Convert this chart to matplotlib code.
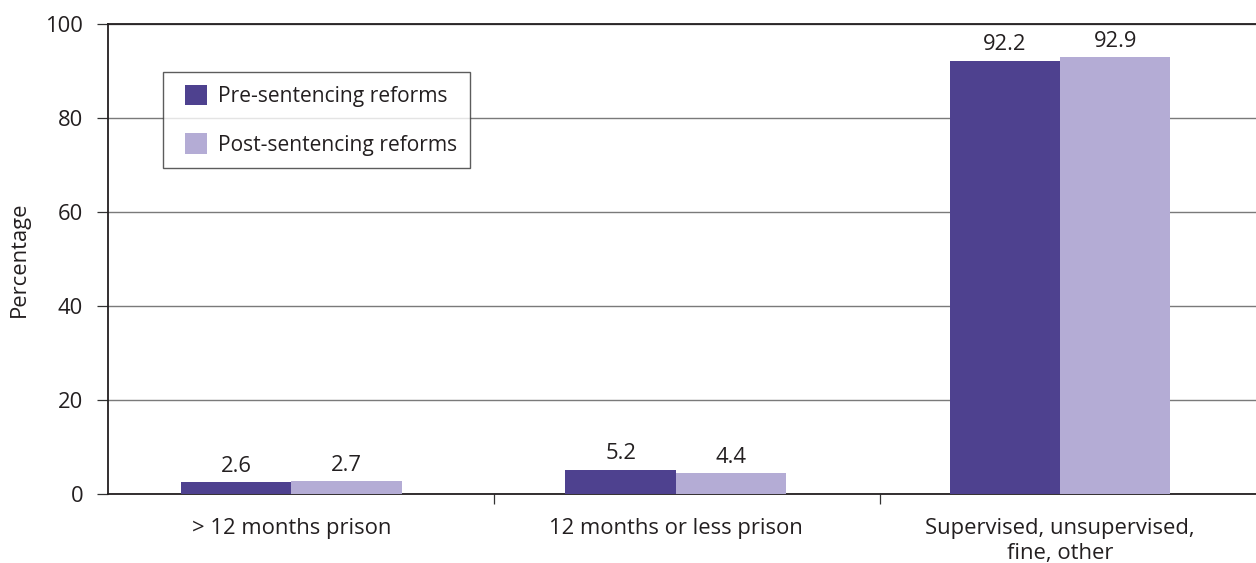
import matplotlib
matplotlib.use("Agg")
import matplotlib.pyplot as plt
from matplotlib.legend_handler import HandlerPatch, update_from_first_child
from matplotlib.container import BarContainer
from matplotlib.patches import Rectangle
import numpy as np

categories = ["> 12 months prison", "12 months or less prison", "Supervised, unsupervised,\nfine, other"]
pre_reform = [2.6, 5.2, 92.2]
post_reform = [2.7, 4.4, 92.9]
series_labels = ["Pre-sentencing reforms", "Post-sentencing reforms"]
y_ticks = [0, 20, 40, 60, 80, 100]

plt.rcParams["font.family"] = ["Open Sans", "DejaVu Sans"]
text_color = "#231f20"
fs = 15.8

fig = plt.figure(figsize=(12.56, 5.63), dpi=100)
ax = fig.add_axes([108 / 1256, 1 - 494 / 563, (1256 - 108) / 1256, (494 - 24) / 563])

x = np.arange(len(categories))
w = 0.287
dark = "#4e418f"
light = "#b4acd5"
b1 = ax.bar(x - w / 2, pre_reform, w, color=dark, label=series_labels[0], zorder=3)
b2 = ax.bar(x + w / 2, post_reform, w, color=light, label=series_labels[1], zorder=3)

for bars, vals in ((b1, pre_reform), (b2, post_reform)):
    for r, v in zip(bars, vals):
        ax.text(r.get_x() + r.get_width() / 2, v + 1.1, f"{v:.1f}", ha="center", va="bottom",
                fontsize=fs, color=text_color)

ax.set_xlim(-0.4775, 2.51)
ax.set_ylim(0, 100)
ax.set_yticks(y_ticks)
ax.tick_params(axis="y", length=8, width=0.9, color="#333333", labelsize=fs, labelcolor=text_color, pad=10)
ax.yaxis.grid(True, color="#7a7a7a", linewidth=1.0, zorder=0)
ax.set_axisbelow(True)

ax.set_xticks([0.527, 1.532], minor=True)
ax.set_xticks(x)
ax.set_xticklabels(categories, fontsize=fs, color=text_color, linespacing=1.3)
ax.tick_params(axis="x", which="major", length=0, pad=17)
ax.tick_params(axis="x", which="minor", length=7, width=0.9, color="#333333")

ax.spines["right"].set_visible(False)
for s in ("left", "bottom", "top"):
    ax.spines[s].set_color("#231f20")
    ax.spines[s].set_linewidth(1.3)

ax.set_ylabel("Percentage", fontsize=fs, color=text_color, labelpad=11)


def square_key(legend, orig_handle, xdescent, ydescent, width, height, fontsize):
    # swatch sits at the right end of the handle box, leaving a wider left margin
    side = fontsize * 1.02
    return Rectangle((-xdescent + width - side, -ydescent), side, height)


leg = ax.legend(loc="upper left", bbox_to_anchor=((163 - 108) / 1148, (494 - 72) / 470),
                frameon=True, fancybox=False, edgecolor="#333333", fontsize=15.1,
                handlelength=1.48, handleheight=1.1, borderpad=0.6, labelspacing=1.27,
                handletextpad=0.55, borderaxespad=0,
                handler_map={BarContainer: HandlerPatch(patch_func=square_key,
                                                        update_func=update_from_first_child)})
leg.get_frame().set_linewidth(1.0)
for t in leg.get_texts():
    t.set_color(text_color)

fig.savefig("out.png", dpi=100, facecolor="white")
